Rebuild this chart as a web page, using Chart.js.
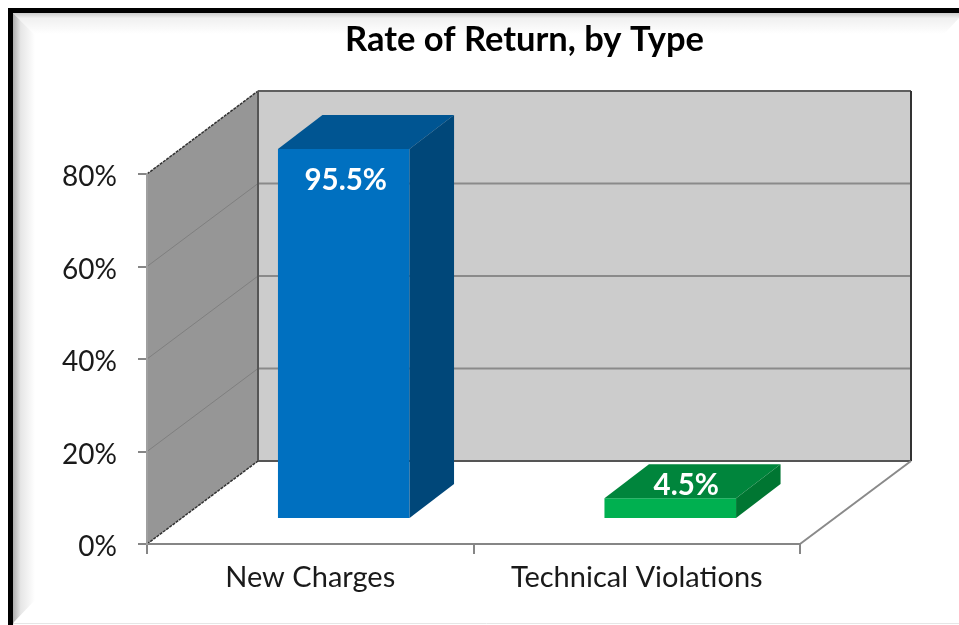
<!DOCTYPE html>
<html>
<head>
<meta charset="utf-8">
<title>Rate of Return, by Type</title>
<script src="https://cdn.jsdelivr.net/npm/chart.js@4"></script>
<style>
  html, body { margin: 0; padding: 0; background: #fff; overflow: hidden; }
  canvas { display: block; }
</style>
</head>
<body>
<canvas id="chart" width="959" height="625"></canvas>
<script>
const categories = ['New Charges', 'Technical Violations'];
const rateOfReturn = [95.5, 4.5];
const axisMax = 80;
const axisStep = 20;

const frontColors = ['#0070c0', '#00b050'];
const topColors = ['#005592', '#00853c'];
const sideColors = ['#004779', '#007632'];

// 3d look: how far the back wall and the bars sit behind the front plane
const wallDepth = { x: 111, y: -83 };
const barOffset = { x: 33.5, y: -25 };
const barDepth = { x: 44.5, y: -34 };

function poly(ctx, pts, fill) {
  ctx.beginPath();
  ctx.moveTo(pts[0][0], pts[0][1]);
  for (let i = 1; i < pts.length; i++) ctx.lineTo(pts[i][0], pts[i][1]);
  ctx.closePath();
  if (fill) {
    ctx.fillStyle = fill;
    ctx.fill();
  }
}

function line(ctx, x1, y1, x2, y2, color, width, dash) {
  ctx.beginPath();
  ctx.setLineDash(dash || []);
  ctx.moveTo(x1, y1);
  ctx.lineTo(x2, y2);
  ctx.strokeStyle = color;
  ctx.lineWidth = width;
  ctx.stroke();
  ctx.setLineDash([]);
}

function drawFrame(chart) {
  const ctx = chart.ctx;
  const w = chart.width, h = chart.height;

  let g = ctx.createLinearGradient(0, 13, 0, 34);
  g.addColorStop(0, '#cccccc');
  g.addColorStop(0.25, '#f0f0f0');
  g.addColorStop(1, '#ffffff');
  poly(ctx, [[13, 13], [w, 13], [w, 18], [944, 34], [34, 34]], g);

  g = ctx.createLinearGradient(13, 0, 35, 0);
  g.addColorStop(0, '#adadad');
  g.addColorStop(0.35, '#e6e6e6');
  g.addColorStop(1, '#ffffff');
  poly(ctx, [[13, 13], [35, 35], [35, 600], [14, 622], [13, h]], g);

  line(ctx, 14, 623.5, w, 623.5, '#e6e6e6', 1);

  ctx.fillStyle = '#000';
  ctx.fillRect(8, 8, w - 8, 5);
  ctx.fillRect(8, 8, 5, h - 8);
}

// walls and floor go under the axes
const wallsPlugin = {
  id: 'walls',
  beforeDraw(chart) {
    const ctx = chart.ctx;
    const y = chart.scales.y;
    const a = chart.chartArea;
    const dx = wallDepth.x, dy = wallDepth.y;

    drawFrame(chart);

    poly(ctx, [[a.left, a.top], [a.left + dx, a.top + dy], [a.left + dx, a.bottom + dy], [a.left, a.bottom]], '#969696');
    poly(ctx, [[a.left + dx, a.top + dy], [a.right + dx, a.top + dy], [a.right + dx, a.bottom + dy], [a.left + dx, a.bottom + dy]], '#cccccc');

    for (let v = axisStep; v < axisMax; v += axisStep) {
      const py = y.getPixelForValue(v);
      line(ctx, a.left, py, a.left + dx, py + dy, '#7f7f7f', 1);
      line(ctx, a.left + dx, py + dy, a.right + dx, py + dy, '#8a8a8a', 2);
    }

    line(ctx, a.left, a.top, a.left + dx, a.top + dy, '#333', 1.5, [3, 1]);
    line(ctx, a.left, a.bottom, a.left + dx, a.bottom + dy, '#333', 1.5, [3, 1]);
    line(ctx, a.left + dx, a.top + dy, a.right + dx, a.top + dy, '#5f5f5f', 2);
    line(ctx, a.left + dx, a.bottom + dy, a.right + dx, a.bottom + dy, '#555', 2);
    line(ctx, a.left + dx, a.top + dy, a.left + dx, a.bottom + dy, '#555', 2);
    line(ctx, a.right + dx, a.top + dy, a.right + dx, a.bottom + dy, '#333', 2);
    line(ctx, a.right, a.bottom, a.right + dx, a.bottom + dy, '#8a8a8a', 2);
  }
};

// the bars stand on the floor, so push them back and add the two extra faces.
// the translate also moves the dataset clip, that is what cuts the tall bar at the axis max
const boxPlugin = {
  id: 'box',
  afterLayout(chart) {
    // the title is centred over the whole picture area, not the plot
    chart.titleBlock.left = 90;
    chart.titleBlock.right = chart.width;
  },
  beforeDatasetDraw(chart) {
    chart.ctx.save();
    chart.ctx.translate(barOffset.x, barOffset.y);
  },
  afterDatasetDraw(chart, args) {
    const ctx = chart.ctx;
    const a = chart.chartArea;
    args.meta.data.forEach(function(bar, i) {
      const top = Math.max(bar.y, a.top);
      const l = bar.x - bar.width / 2;
      const r = bar.x + bar.width / 2;
      const b = bar.base;
      const dx = barDepth.x, dy = barDepth.y;

      poly(ctx, [[l, top], [r, top], [r + dx, top + dy], [l + dx, top + dy]], topColors[i]);
      poly(ctx, [[r, top], [r + dx, top + dy], [r + dx, b + dy], [r, b]], sideColors[i]);

      // label sits on the front when the bar runs off the axis, otherwise on the top face
      const clipped = rateOfReturn[i] > axisMax;
      ctx.fillStyle = '#fff';
      ctx.font = 'bold 29.5px Lato';
      ctx.textAlign = 'center';
      ctx.textBaseline = 'middle';
      ctx.fillText(rateOfReturn[i].toFixed(1) + '%',
        bar.x + (clipped ? 2 : 16),
        clipped ? top + 31 : top - 13);
    });
    ctx.restore();
  }
};

new Chart(document.getElementById('chart'), {
  type: 'bar',
  data: {
    labels: categories,
    datasets: [{
      data: rateOfReturn,
      backgroundColor: frontColors,
      categoryPercentage: 1,
      barPercentage: 0.403
    }]
  },
  plugins: [wallsPlugin, boxPlugin],
  options: {
    responsive: false,
    animation: false,
    layout: { padding: { left: 0, right: 159, top: 0, bottom: 0 } },
    plugins: {
      legend: { display: false },
      tooltip: { enabled: false },
      title: {
        display: true,
        text: 'Rate of Return, by Type',
        color: '#000',
        font: { family: 'Lato', size: 34.5, weight: 'bold', lineHeight: 1.2 },
        padding: { top: 19, bottom: 113.6 }
      }
    },
    scales: {
      x: {
        afterFit(scale) { scale.height = 81; },
        grid: { drawOnChartArea: false, drawTicks: true, tickLength: 10, color: '#868686', lineWidth: 2 },
        border: { color: '#868686', width: 2 },
        ticks: { color: '#1a1a1a', font: { family: 'Lato', size: 29 }, padding: 6, maxRotation: 0 }
      },
      y: {
        min: 0,
        max: axisMax,
        afterFit(scale) { scale.width = 147; },
        grid: { drawOnChartArea: false, drawTicks: true, tickLength: 9, color: '#868686', lineWidth: 2 },
        border: { color: '#a0a0a0', width: 2 },
        ticks: {
          stepSize: axisStep,
          color: '#1a1a1a',
          font: { family: 'Lato', size: 28 },
          padding: 21,
          labelOffset: 3,
          callback: function(v) { return v + '%'; }
        }
      }
    }
  }
});
</script>
</body>
</html>
